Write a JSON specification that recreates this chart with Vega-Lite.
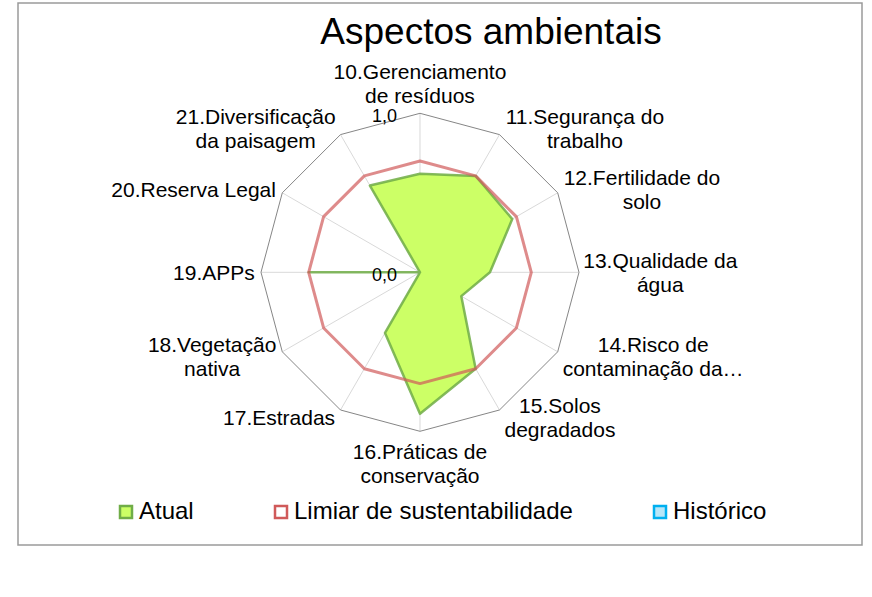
{
  "$schema": "https://vega.github.io/schema/vega-lite/v6.json",
  "width": 844,
  "height": 542,
  "autosize": {"type": "none"},
  "padding": {"left": 18, "top": 3, "right": 10, "bottom": 52},
  "background": "white",
  "config": {"view": {"stroke": "#9a9a9a", "strokeWidth": 1.5}, "font": "Liberation Sans"},
  "title": {"text": "Aspectos ambientais", "fontSize": 37, "font": "Liberation Sans", "fontWeight": "normal", "color": "#000000", "anchor": "middle", "frame": "group", "offset": -49, "dx": 51},
  "data": {"values": [
    {"num": 10, "label": "10.Gerenciamento\nde resíduos", "Atual": 0.62, "Limiar de sustentabilidade": 0.7},
    {"num": 11, "label": "11.Segurança do\ntrabalho", "Atual": 0.7, "Limiar de sustentabilidade": 0.7},
    {"num": 12, "label": "12.Fertilidade do\nsolo", "Atual": 0.67, "Limiar de sustentabilidade": 0.7},
    {"num": 13, "label": "13.Qualidade da\nágua", "Atual": 0.44, "Limiar de sustentabilidade": 0.7},
    {"num": 14, "label": "14.Risco de\ncontaminação da…", "Atual": 0.3, "Limiar de sustentabilidade": 0.7},
    {"num": 15, "label": "15.Solos\ndegradados", "Atual": 0.7, "Limiar de sustentabilidade": 0.7},
    {"num": 16, "label": "16.Práticas de\nconservação", "Atual": 0.89, "Limiar de sustentabilidade": 0.7},
    {"num": 17, "label": "17.Estradas", "Atual": 0.44, "Limiar de sustentabilidade": 0.7},
    {"num": 18, "label": "18.Vegetação\nnativa", "Atual": 0.0, "Limiar de sustentabilidade": 0.7},
    {"num": 19, "label": "19.APPs", "Atual": 0.7, "Limiar de sustentabilidade": 0.7},
    {"num": 20, "label": "20.Reserva Legal", "Atual": 0.0, "Limiar de sustentabilidade": 0.7},
    {"num": 21, "label": "21.Diversificação\nda paisagem", "Atual": 0.63, "Limiar de sustentabilidade": 0.7}
  ]},
  "transform": [
    {"calculate": "(datum.num - 10) * PI / 6", "as": "theta"},
    {"calculate": "sin(datum.theta)", "as": "sx"},
    {"calculate": "cos(datum.theta)", "as": "sy"},
    {"calculate": "0", "as": "zero"}
  ],
  "layer": [
    {
      "mark": {"type": "rule", "color": "#d9d9d9", "strokeWidth": 1},
      "encoding": {
        "x": {"field": "zero", "type": "quantitative", "scale": {"domain": [-2.5283, 2.7799], "nice": false, "zero": false}, "axis": null},
        "y": {"field": "zero", "type": "quantitative", "scale": {"domain": [-1.7151, 1.6937], "nice": false, "zero": false}, "axis": null},
        "x2": {"field": "sx"},
        "y2": {"field": "sy"}
      }
    },
    {
      "mark": {"type": "line", "interpolate": "linear-closed", "color": "#868686", "strokeWidth": 1},
      "encoding": {
        "x": {"field": "sx", "type": "quantitative", "scale": {"domain": [-2.5283, 2.7799], "nice": false, "zero": false}, "axis": null},
        "y": {"field": "sy", "type": "quantitative", "scale": {"domain": [-1.7151, 1.6937], "nice": false, "zero": false}, "axis": null},
        "order": {"field": "num", "type": "quantitative"}
      }
    },
    {
      "transform": [
        {"fold": ["Atual", "Limiar de sustentabilidade"], "as": ["series", "val"]},
        {"filter": "datum.series === 'Atual'"},
        {"calculate": "datum.val * datum.sx", "as": "px"},
        {"calculate": "datum.val * datum.sy", "as": "py"}
      ],
      "mark": {"type": "line", "interpolate": "linear-closed", "strokeWidth": 2.5, "strokeJoin": "round", "strokeOpacity": 0.85},
      "encoding": {
        "x": {"field": "px", "type": "quantitative", "scale": {"domain": [-2.5283, 2.7799], "nice": false, "zero": false}, "axis": null},
        "y": {"field": "py", "type": "quantitative", "scale": {"domain": [-1.7151, 1.6937], "nice": false, "zero": false}, "axis": null},
        "order": {"field": "num", "type": "quantitative"},
        "fill": {"field": "series", "type": "nominal", "scale": {"domain": ["Atual", "Limiar de sustentabilidade", "Histórico"], "range": ["#ccff66", "#ffffff", "#b7e6f8"]},
          "legend": {"title": null, "orient": "none", "legendX": 96, "legendY": 497, "direction": "horizontal", "symbolType": "square", "symbolSize": 144, "symbolStrokeWidth": 2.5, "labelFontSize": 24, "labelFont": "Liberation Sans", "labelColor": "#000000", "labelOffset": 1, "columnPadding": 75, "padding": 0, "labelLimit": 400}},
        "stroke": {"field": "series", "type": "nominal", "scale": {"domain": ["Atual", "Limiar de sustentabilidade", "Histórico"], "range": ["#70ad47", "#d05a5a", "#00b0f0"]},
          "legend": {"title": null, "orient": "none", "legendX": 96, "legendY": 497, "direction": "horizontal", "symbolType": "square", "symbolSize": 144, "symbolStrokeWidth": 2.5, "labelFontSize": 24, "labelFont": "Liberation Sans", "labelColor": "#000000", "labelOffset": 1, "columnPadding": 75, "padding": 0, "labelLimit": 400}}
      }
    },
    {
      "transform": [
        {"fold": ["Atual", "Limiar de sustentabilidade"], "as": ["series", "val"]},
        {"filter": "datum.series === 'Limiar de sustentabilidade'"},
        {"calculate": "datum.val * datum.sx", "as": "px"},
        {"calculate": "datum.val * datum.sy", "as": "py"}
      ],
      "mark": {"type": "line", "interpolate": "linear-closed", "strokeWidth": 3, "strokeJoin": "round", "strokeOpacity": 0.7},
      "encoding": {
        "x": {"field": "px", "type": "quantitative", "scale": {"domain": [-2.5283, 2.7799], "nice": false, "zero": false}, "axis": null},
        "y": {"field": "py", "type": "quantitative", "scale": {"domain": [-1.7151, 1.6937], "nice": false, "zero": false}, "axis": null},
        "order": {"field": "num", "type": "quantitative"},
        "stroke": {"field": "series", "type": "nominal", "scale": {"domain": ["Atual", "Limiar de sustentabilidade", "Histórico"], "range": ["#70ad47", "#d05a5a", "#00b0f0"]},
          "legend": {"title": null, "orient": "none", "legendX": 96, "legendY": 497, "direction": "horizontal", "symbolType": "square", "symbolSize": 144, "symbolStrokeWidth": 2.5, "labelFontSize": 24, "labelFont": "Liberation Sans", "labelColor": "#000000", "labelOffset": 1, "columnPadding": 75, "padding": 0, "labelLimit": 400}}
      }
    },
    {
      "transform": [
        {"calculate": "split(datum.label, '\\n')", "as": "lines"},
        {"calculate": "datum.lines[0]", "as": "l1"},
        {"calculate": "length(datum.lines) > 1 ? datum.lines[1] : ''", "as": "l2"},
        {"calculate": "0.556*length(datum.l1) - 0.334*(length(datum.l1)-length(replace(datum.l1, regexp('[ijl]','g'), ''))) - 0.278*(length(datum.l1)-length(replace(datum.l1, regexp('[tf., í]','g'), ''))) - 0.223*(length(datum.l1)-length(replace(datum.l1, regexp('r','g'), ''))) - 0.056*(length(datum.l1)-length(replace(datum.l1, regexp('[csvxyzkç]','g'), ''))) + 0.277*(length(datum.l1)-length(replace(datum.l1, regexp('m','g'), ''))) + 0.15*(length(datum.l1)-length(replace(datum.l1, regexp('[A-Z]','g'), ''))) + 0.444*(length(datum.l1)-length(replace(datum.l1, regexp('…','g'), '')))", "as": "e1"},
        {"calculate": "0.556*length(datum.l2) - 0.334*(length(datum.l2)-length(replace(datum.l2, regexp('[ijl]','g'), ''))) - 0.278*(length(datum.l2)-length(replace(datum.l2, regexp('[tf., í]','g'), ''))) - 0.223*(length(datum.l2)-length(replace(datum.l2, regexp('r','g'), ''))) - 0.056*(length(datum.l2)-length(replace(datum.l2, regexp('[csvxyzkç]','g'), ''))) + 0.277*(length(datum.l2)-length(replace(datum.l2, regexp('m','g'), ''))) + 0.15*(length(datum.l2)-length(replace(datum.l2, regexp('[A-Z]','g'), ''))) + 0.444*(length(datum.l2)-length(replace(datum.l2, regexp('…','g'), '')))", "as": "e2"},
        {"calculate": "21 * max(datum.e1, datum.e2)", "as": "wpx"},
        {"calculate": "length(datum.lines)", "as": "nl"},
        {"calculate": "abs(datum.sx) < 0.01 ? 0 : datum.sx + (datum.sx > 0 ? 1 : -1) * (5 + datum.wpx / 2) / 159", "as": "lx"},
        {"calculate": "abs(datum.sx) < 0.01 ? (datum.sy > 0 ? 1 + (16 + 24 * (datum.nl - 1)) / 159 : -(1 + 22 / 159)) : datum.sy * (1 + 8 / 159) + (12 * (datum.nl - 1) - 2) / 159", "as": "ly"}
      ],
      "mark": {"type": "text", "align": "center", "baseline": "middle", "lineBreak": "\n", "lineHeight": 24, "fontSize": 21, "font": "Liberation Sans", "color": "#000000"},
      "encoding": {
        "x": {"field": "lx", "type": "quantitative", "scale": {"domain": [-2.5283, 2.7799], "nice": false, "zero": false}, "axis": null},
        "y": {"field": "ly", "type": "quantitative", "scale": {"domain": [-1.7151, 1.6937], "nice": false, "zero": false}, "axis": null},
        "text": {"field": "label", "type": "nominal"}
      }
    },
    {
      "data": {"values": [{"v": 0, "t": "0,0"}, {"v": 1, "t": "1,0"}]},
      "transform": [{"calculate": "0", "as": "zero"}],
      "mark": {"type": "text", "align": "right", "baseline": "middle", "dx": -23, "dy": 4, "fontSize": 18, "font": "Liberation Sans", "color": "#000000"},
      "encoding": {
        "x": {"field": "zero", "type": "quantitative", "scale": {"domain": [-2.5283, 2.7799], "nice": false, "zero": false}, "axis": null},
        "y": {"field": "v", "type": "quantitative", "scale": {"domain": [-1.7151, 1.6937], "nice": false, "zero": false}, "axis": null},
        "text": {"field": "t", "type": "nominal"}
      }
    }
  ]
}
